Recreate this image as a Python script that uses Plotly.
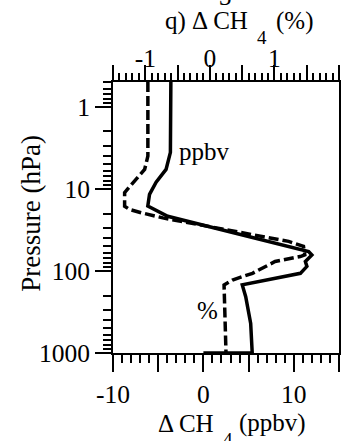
import plotly.graph_objects as go

# Methane change profiles against pressure
pressure_ppbv = [0.5, 3.6, 5.8, 8.3, 11.7, 16.2, 21.6, 58, 64, 77, 88, 107, 148, 206, 437, 1000, 1000]
delta_ppbv = [-3.6, -3.65, -4.13, -5.23, -5.96, -6.15, -3.95, 11.64, 12.0, 11.28, 11.45, 10.73, 4.3, 4.68, 5.23, 5.4, 0.0]

pressure_pct = [0.5, 4.0, 5.8, 8.0, 11.1, 16.3, 17.9, 19.6, 22.6, 43.7, 50.3, 63.7, 66.8, 76.9, 88.5, 107, 129, 148, 1000]
delta_pct = [-0.96, -0.96, -1.01, -1.16, -1.32, -1.32, -1.24, -1.06, -0.73, 1.22, 1.45, 1.47, 1.40, 1.01, 0.86, 0.66, 0.35, 0.22, 0.25]

# Axis ticks
ppbv_tickvals = [-10, -5, 0, 5, 10, 15]
ppbv_ticktext = ["-10", "", "0", "", "10", ""]
pct_tickvals = [-1.5, -1.0, -0.5, 0.0, 0.5, 1.0, 1.5, 2.0]
pct_ticktext = ["", "-1", "", "0", "", "1", "", "2"]
p_tickvals = [1, 10, 100, 1000]
p_ticktext = ["1", "10", "100", "1000"]
p_minor = [m * 10.0 ** e for e in range(-1, 3) for m in range(2, 10)]

FONT = "Liberation Serif"
fig = go.Figure()

fig.add_trace(go.Scatter(
    x=delta_ppbv, y=pressure_ppbv, mode="lines", xaxis="x", yaxis="y",
    line=dict(color="black", width=3.5), cliponaxis=False, showlegend=False))
fig.add_trace(go.Scatter(
    x=delta_pct, y=pressure_pct, mode="lines", xaxis="x2", yaxis="y",
    line=dict(color="black", width=3.5, dash="10px,4px"), showlegend=False))

axis_common = dict(showgrid=False, zeroline=False, showline=True, linecolor="black",
                   linewidth=2, ticks="outside", tickcolor="black", tickwidth=2,
                   tickfont=dict(family=FONT, size=25.5, color="black"))

fig.update_layout(
    width=343, height=441,
    margin=dict(l=113, r=2, t=82, b=88),
    paper_bgcolor="white", plot_bgcolor="white",
    font=dict(family=FONT, size=24, color="black"),
    xaxis=dict(range=[-10, 15], tickmode="array", tickvals=ppbv_tickvals,
               ticktext=ppbv_ticktext, ticklen=17,
               minor=dict(ticks="outside", dtick=1, tick0=0, ticklen=8,
                          tickwidth=2, tickcolor="black"),
               **axis_common),
    xaxis2=dict(range=[-1.5, 2], overlaying="x", side="top", anchor="y",
                tickmode="array", tickvals=pct_tickvals, ticktext=pct_ticktext,
                ticklen=15, ticklabelstandoff=-12,
                minor=dict(ticks="outside", dtick=0.1, tick0=0, ticklen=7,
                           tickwidth=2, tickcolor="black"),
                **axis_common),
    yaxis=dict(type="log", range=[3, -0.301], tickmode="array",
               tickvals=p_tickvals, ticktext=p_ticktext, ticklen=16,
               mirror=True,
               minor=dict(ticks="outside", tickvals=p_minor, ticklen=8,
                          tickwidth=2, tickcolor="black"),
               **axis_common),
)

L, R, T, B = 113, 341, 82, 353


def px(xp):
    return (xp - L) / (R - L)


def py(yp):
    return (B - yp) / (B - T)


ann_font = dict(family=FONT, size=25, color="black")
sub_font = dict(family=FONT, size=19, color="black")


def text(s, x, y, xanchor="center", font=ann_font, **kw):
    fig.add_annotation(text=s, xref="paper", yref="paper", x=px(x), y=py(y),
                       xanchor=xanchor, yanchor="middle", showarrow=False,
                       font=font, **kw)


# top title: "q) Δ CH₄ (%)" with a low-set subscript
text("q) Δ\u2009CH", 251, 21, xanchor="right")
text("4", 263, 37, font=sub_font)
text("(%)", 275, 21, xanchor="left")
text("3", 226, -4)

# bottom title: "Δ CH₄ (ppbv)"
text("Δ CH", 217, 423, xanchor="right")
text("4", 229, 440, font=sub_font)
text("(ppbv)", 238, 423, xanchor="left")

text("Pressure (hPa)", 30, 213, font=dict(family=FONT, size=27, color="black"),
     textangle=-90)

fig.add_annotation(text="ppbv", xref="x", yref="y", x=0.1, y=0.54,
                   xanchor="center", yanchor="middle", showarrow=False, font=ann_font)
fig.add_annotation(text="%", xref="x", yref="y", x=0.5, y=2.478,
                   xanchor="center", yanchor="middle", showarrow=False, font=ann_font)

fig.write_html("out.html")
